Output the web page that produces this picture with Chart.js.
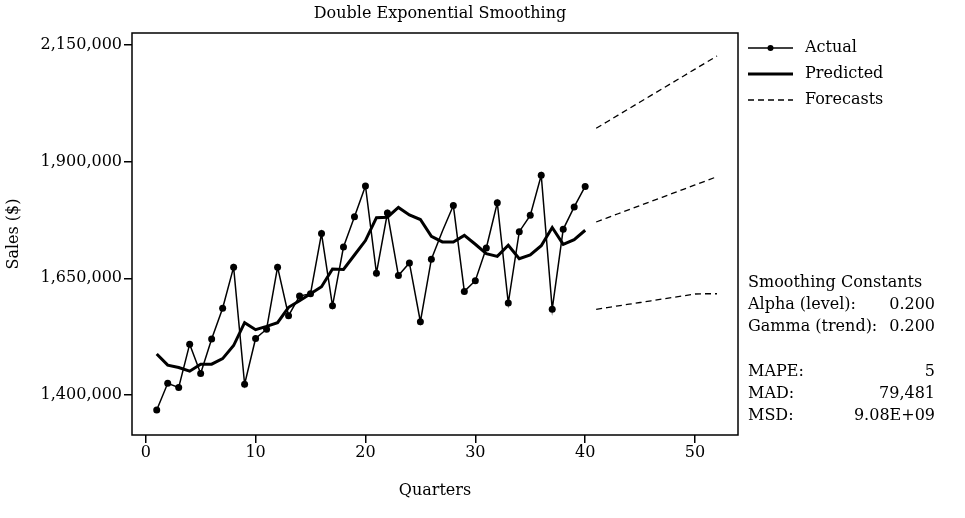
<!DOCTYPE html>
<html>
<head>
<meta charset="utf-8">
<script src="https://cdn.jsdelivr.net/npm/chart.js@4"></script>
<style>
  html, body { margin: 0; padding: 0; background: #fff; }
  #wrap { width: 965px; height: 518px; }
</style>
</head>
<body>
<div id="wrap"><canvas id="desChart" width="965" height="518"></canvas></div>
<script>
// Data
const quarters = [1,2,3,4,5,6,7,8,9,10,11,12,13,14,15,16,17,18,19,20,
                  21,22,23,24,25,26,27,28,29,30,31,32,33,34,35,36,37,38,39,40];
const actualSales = [1368000,1425000,1416000,1509000,1446000,1520000,1586000,1674000,1423000,1521000,
                     1541000,1674000,1570000,1612000,1617000,1746000,1591000,1717000,1782000,1848000,
                     1661000,1790000,1656000,1683000,1557000,1691000,1751000,1806000,1622000,1645000,
                     1715000,1812000,1597000,1750000,1785000,1871000,1584000,1755000,1803000,1847000];
const predictedSales = [1488000,1464000,1459000,1451000,1466000,1466000,1478000,1506000,1555000,1540000,
                        1547000,1555000,1588000,1602000,1617000,1632000,1670000,1669000,1700000,1731000,
                        1780000,1781000,1802000,1786000,1776000,1740000,1728000,1728000,1742000,1723000,
                        1703000,1697000,1721000,1692000,1700000,1720000,1759000,1723000,1733000,1753000];
const forecastQuarters = [41,42,43,44,45,46,47,48,49,50,51,52];
const forecastSales = [1770700,1779500,1788400,1797200,1806000,1814900,1823700,1832500,1841300,1850200,1859000,1867800];
const upperLimits = [1971500,1985600,1999700,2013800,2027900,2042000,2056000,2070100,2084200,2098300,2112400,2126500];
const lowerLimits = [1583700,1587300,1591000,1594600,1598200,1601900,1605500,1609100,1612700,1616400,1617000,1617000];
// quarter 27 has no visible marker in the reference
const hiddenMarkers = [27];

const xTicks = [0, 10, 20, 30, 40, 50];
const yTicks = [1400000, 1650000, 1900000, 2150000];

const legendLabels = ['Actual', 'Predicted', 'Forecasts'];
const constantRows = [['Alpha (level):', '0.200'], ['Gamma (trend):', '0.200']];
const accuracyRows = [['MAPE:', '5'], ['MAD:', '79,481'], ['MSD:', '9.08E+09']];

const FONT = "'DejaVu Serif', 'Liberation Serif', serif";
const FSIZE = 16;

function pairs(xs, ys) {
    return xs.map((x, i) => ({ x: x, y: ys[i] }));
}

const dashed = [6, 4];

// draws the box, title, legend and the smoothing statistics
const sidePanel = {
    id: 'sidePanel',
    afterDraw(chart) {
        const ctx = chart.ctx;
        const a = chart.chartArea;
        ctx.save();
        ctx.strokeStyle = '#000';
        ctx.lineWidth = 1.5;
        ctx.strokeRect(a.left, a.top, a.right - a.left, a.bottom - a.top);

        ctx.fillStyle = '#000';
        ctx.font = FSIZE + 'px ' + FONT;
        ctx.textBaseline = 'middle';
        ctx.textAlign = 'center';
        ctx.fillText('Double Exponential Smoothing', 440, 14);

        // legend
        const lx0 = 748, lx1 = 793, tx = 805;
        const ly = [48, 74, 100];
        ctx.textAlign = 'left';
        legendLabels.forEach((lab, i) => {
            ctx.beginPath();
            ctx.setLineDash(i === 2 ? dashed : []);
            ctx.lineWidth = i === 1 ? 3 : 1.5;
            ctx.moveTo(lx0, ly[i]);
            ctx.lineTo(lx1, ly[i]);
            ctx.stroke();
            ctx.setLineDash([]);
            if (i === 0) {
                ctx.beginPath();
                ctx.arc((lx0 + lx1) / 2, ly[i], 3, 0, Math.PI * 2);
                ctx.fill();
            }
            ctx.fillText(lab, tx, ly[i]);
        });

        // smoothing constants and accuracy measures
        const sx = 748, vx = 935;
        ctx.fillText('Smoothing Constants', sx, 283);
        constantRows.forEach((row, i) => {
            const y = 305 + i * 22;
            ctx.textAlign = 'left';
            ctx.fillText(row[0], sx, y);
            ctx.textAlign = 'right';
            ctx.fillText(row[1], vx, y);
        });
        accuracyRows.forEach((row, i) => {
            const y = 372 + i * 22;
            ctx.textAlign = 'left';
            ctx.fillText(row[0], sx, y);
            ctx.textAlign = 'right';
            ctx.fillText(row[1], vx, y);
        });
        ctx.restore();
    }
};

const ctx = document.getElementById('desChart').getContext('2d');
new Chart(ctx, {
    type: 'line',
    data: {
        datasets: [
            {
                label: 'Actual',
                data: pairs(quarters, actualSales),
                borderColor: '#000',
                backgroundColor: '#000',
                borderWidth: 1.5,
                pointRadius: quarters.map(q => hiddenMarkers.includes(q) ? 0 : 3.5),
                pointBorderWidth: 0,
                tension: 0
            },
            {
                label: 'Predicted',
                data: pairs(quarters, predictedSales),
                borderColor: '#000',
                borderWidth: 3,
                pointRadius: 0,
                tension: 0
            },
            {
                label: 'Forecasts',
                data: pairs(forecastQuarters, upperLimits),
                borderColor: '#000',
                borderWidth: 1.3,
                borderDash: dashed,
                pointRadius: 0,
                tension: 0
            },
            {
                label: 'Forecasts',
                data: pairs(forecastQuarters, forecastSales),
                borderColor: '#000',
                borderWidth: 1.3,
                borderDash: dashed,
                pointRadius: 0,
                tension: 0
            },
            {
                label: 'Forecasts',
                data: pairs(forecastQuarters, lowerLimits),
                borderColor: '#000',
                borderWidth: 1.3,
                borderDash: dashed,
                pointRadius: 0,
                tension: 0
            }
        ]
    },
    options: {
        responsive: false,
        animation: false,
        layout: { padding: { left: 0, right: 227, top: 33, bottom: 14 } },
        plugins: {
            legend: { display: false },
            title: { display: false },
            tooltip: { enabled: false }
        },
        scales: {
            x: {
                type: 'linear',
                min: -1.25,
                max: 53.91,
                afterBuildTicks: scale => { scale.ticks = xTicks.map(v => ({ value: v })); },
                afterFit: scale => { scale.height = 69; },
                border: { display: false },
                grid: { drawOnChartArea: false, drawTicks: true, tickLength: 8, color: '#000', lineWidth: 1.5 },
                ticks: { color: '#000', font: { family: FONT, size: FSIZE }, padding: 0, maxRotation: 0 },
                title: { display: true, text: 'Quarters', color: '#000', font: { family: FONT, size: FSIZE }, padding: { top: 10 } }
            },
            y: {
                min: 1314300,
                max: 2175700,
                afterBuildTicks: scale => { scale.ticks = yTicks.map(v => ({ value: v })); },
                afterFit: scale => { scale.width = 132; },
                border: { display: false },
                grid: { drawOnChartArea: false, drawTicks: true, tickLength: 8, color: '#000', lineWidth: 1.5 },
                ticks: {
                    color: '#000',
                    font: { family: FONT, size: FSIZE },
                    padding: 2,
                    callback: v => v.toLocaleString('en-US')
                },
                title: { display: true, text: 'Sales ($)', color: '#000', font: { family: FONT, size: FSIZE }, padding: { bottom: 0 } }
            }
        }
    },
    plugins: [sidePanel]
});
</script>
</body>
</html>
